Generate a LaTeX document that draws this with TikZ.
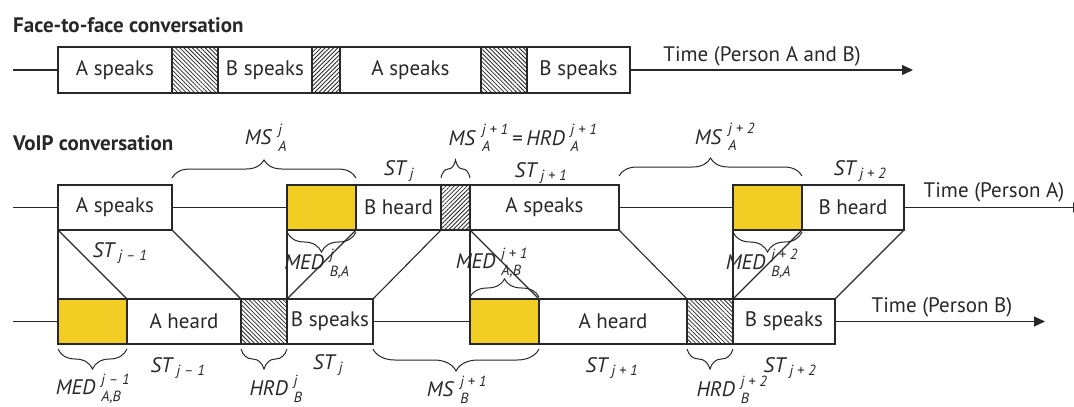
\documentclass[tikz,border=0pt]{standalone}
\usepackage{fontspec}
\usepackage{amsmath}
\setmainfont{PT Sans}
\usetikzlibrary{arrows.meta,patterns.meta,decorations.pathreplacing}
\definecolor{ink}{RGB}{40,40,40}
\definecolor{medyellow}{RGB}{242,206,36}
\newcommand{\tens}[3]{\textit{#1}\hspace{0.28em}$^{\textit{#2}}_{\textit{#3}}$}
\newcommand{\stt}[1]{\textit{ST}$_{\,\textit{#1}}$}
\newcommand{\segm}[6]{\node[#2, minimum width={#4-#3}] (#1) at ({(#3+#4)/2},#5) {#6};}
\begin{document}
\begin{tikzpicture}[x=1pt,y=-1pt,
  every node/.style={font=\fontsize{21}{25}\selectfont, text=ink},
  seg/.style={draw=ink, line width=1.2pt, inner sep=0pt, outer sep=0pt, minimum height=45pt},
  segtop/.style={seg, minimum height=46pt},
  yel/.style={seg, fill=medyellow},
  hne/.style={pattern={Lines[angle=45,distance=3pt,line width=0.8pt]}, pattern color=ink},
  hnw/.style={pattern={Lines[angle=-45,distance=3pt,line width=0.8pt]}, pattern color=ink},
  conn/.style={draw=ink, line width=1.1pt},
  arr/.style={conn, -{Triangle[length=11pt,width=10pt]}},
  br/.style={draw=ink, line width=1pt, decorate, decoration={brace, amplitude=#1}},
  brm/.style={draw=ink, line width=1pt, decorate, decoration={brace, mirror, amplitude=#1}},
  title/.style={font=\fontsize{21}{25}\selectfont\bfseries, anchor=west, inner sep=0pt},
  lab/.style={inner sep=0pt}
]
\useasboundingbox (0,0) rectangle (1074,407);
\clip (0,0) rectangle (1074,407);

% titles
\node[title] (ttl1) at (13,25) {Face-to-face conversation};
\node[title] (ttl2) at (13,143) {VoIP conversation};

% top row
\segm{t1}{segtop}{58}{172}{70}{A speaks}
\segm{t2}{segtop,hnw}{172}{218}{70}{}
\segm{t3}{segtop}{218}{312}{70}{B speaks}
\segm{t4}{segtop,hne}{312}{340}{70}{}
\segm{t5}{segtop}{340}{481}{70}{A speaks}
\segm{t6}{segtop,hnw}{481}{527}{70}{}
\segm{t7}{segtop}{527}{630}{70}{B speaks}
\coordinate (t0) at (13,70);
\coordinate (tend) at (913,70);
\draw[conn] (t0) -- (t1.west);
\draw[arr] (t7.east) -- (tend);
\node[lab] (ttime) at (762,56) {Time (Person A and B)};

% row A
\segm{a1}{seg}{58}{172}{207.5}{A speaks}
\segm{a2}{yel}{287}{356}{207.5}{}
\segm{a3}{seg}{356}{441}{207.5}{B heard}
\segm{a4}{seg,hne}{441}{470}{207.5}{}
\segm{a5}{seg}{470}{619}{207.5}{A speaks}
\segm{a6}{yel}{733}{802}{207.5}{}
\segm{a7}{seg}{802}{904}{207.5}{B heard}
\coordinate (a0) at (13,207.5);
\coordinate (aend) at (1084,207.5);
\draw[conn] (a0) -- (a1.west);
\draw[conn] (a1.east) -- (a2.west);
\draw[conn] (a5.east) -- (a6.west);
\draw[arr] (a7.east) -- (aend);
\node[lab] (atime) at (994,192) {Time (Person A)};

% row B
\segm{b1}{yel}{58}{127}{321.5}{}
\segm{b2}{seg}{127}{241}{321.5}{A heard}
\segm{b3}{seg,hnw}{241}{287}{321.5}{}
\segm{b4}{seg}{287}{373}{321.5}{B speaks}
\segm{b5}{yel}{470}{539}{321.5}{}
\segm{b6}{seg}{539}{687}{321.5}{A heard}
\segm{b7}{seg,hnw}{687}{733}{321.5}{}
\segm{b8}{seg}{733}{835}{321.5}{B speaks}
\coordinate (b0) at (13,321.5);
\coordinate (bend) at (1045,321.5);
\draw[conn] (b0) -- (b1.west);
\draw[conn] (b4.east) -- (b5.west);
\draw[arr] (b8.east) -- (bend);
\node[lab] (btime) at (942,307) {Time (Person B)};

% connectors between rows
\draw[conn] (a1.south west) -- (b1.north west);
\draw[conn] (a1.south west) -- (b1.north east);
\draw[conn] (a1.south east) -- (b2.north east);
\draw[conn] (a2.south west) -- (b4.north west);
\draw[conn] (a2.south east) -- (b4.north west);
\draw[conn] (a3.south east) -- (b4.north east);
\draw[conn] (a4.south east) -- (b5.north west);
\draw[conn] (a4.south east) -- (b5.north east);
\draw[conn] (a5.south east) -- (b6.north east);
\draw[conn] (a6.south west) -- (b8.north west);
\draw[conn] (a6.south east) -- (b8.north west);
\draw[conn] (a7.south east) -- (b8.north east);

% braces above row A
\draw[br=18pt, decoration={raise=7pt}] (a1.north east) -- (a2.north east);
\draw[br=18pt, decoration={raise=7pt}] (a4.north west) -- (a4.north east);
\draw[br=18pt, decoration={raise=9pt}] (a5.north east) -- (a6.north east);
% braces below row A
\draw[brm=20pt, decoration={raise=2pt}] (a2.south west) -- (a2.south east);
\draw[brm=20pt, decoration={raise=2pt}] (a6.south west) -- (a6.south east);
% brace above row B
\draw[br=18pt, decoration={raise=2pt}] (b5.north west) -- (b5.north east);
% braces below row B
\draw[brm=20pt, decoration={raise=5pt}] (b1.south west) -- (b1.south east);
\draw[brm=20pt, decoration={raise=5pt}] (b3.south west) -- (b3.south east);
\draw[brm=22pt, decoration={raise=5pt}] (b4.south east) -- (b5.south east);
\draw[brm=20pt, decoration={raise=5pt}] (b7.south west) -- (b7.south east);

% labels above row A
\node[lab] (lmsa) at (266,138) {\tens{MS}{j}{A}};
\node[lab] (lmsa1) at (523,138) {\tens{MS}{j + 1}{A}\,=\,\tens{HRD}{j + 1}{A}};
\node[lab] (lmsa2) at (725,137) {\tens{MS}{j + 2}{A}};
\node[lab] (lsta3) at (399,171) {\stt{j}};
\node[lab] (lsta5) at (541,173) {\stt{j + 1}};
\node[lab] (lsta7) at (860,171) {\stt{j + 2}};

% labels between rows
\node[lab] (lstm) at (120,253) {\stt{j -- 1}};
\node[lab] (lmedj) at (317,264) {\tens{MED}{j}{B,A}};
\node[lab] (lmedj1) at (492,263) {\tens{MED}{j + 1}{A,B}};
\node[lab] (lmedj2) at (762,264) {\tens{MED}{j + 2}{B,A}};

% labels below row B
\node[lab] (lmedm) at (93,389) {\tens{MED}{j -- 1}{A,B}};
\node[lab] (lstb2) at (178,368) {\stt{j -- 1}};
\node[lab] (lhrdj) at (276,389) {\tens{HRD}{j}{B}};
\node[lab] (lstb4) at (328,365) {\stt{j}};
\node[lab] (lmsb) at (457,390) {\tens{MS}{j + 1}{B}};
\node[lab] (lstb6) at (612,368) {\stt{j + 1}};
\node[lab] (lhrdj2) at (732,390) {\tens{HRD}{j + 2}{B}};
\node[lab] (lstb8) at (790,368) {\stt{j + 2}};
\end{tikzpicture}
\end{document}
